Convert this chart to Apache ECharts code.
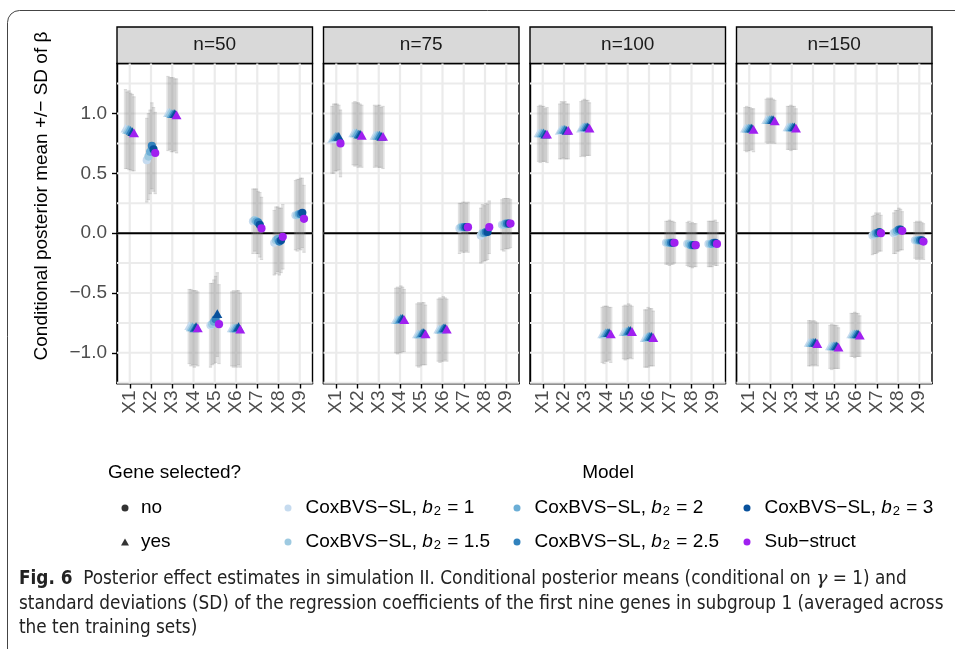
<!DOCTYPE html>
<html>
<head>
<meta charset="utf-8">
<script src="https://cdn.jsdelivr.net/npm/echarts@6/dist/echarts.min.js"></script>
<style>
  html, body { margin: 0; padding: 0; background: #fff; }
  #chart { width: 955px; height: 649px; }
</style>
</head>
<body>
<div id="chart"></div>
<script>
// Genes on the x axis and the four sample sizes (facets)
const geneLabels = ['X1', 'X2', 'X3', 'X4', 'X5', 'X6', 'X7', 'X8', 'X9'];
const panelTitles = ['n=50', 'n=75', 'n=100', 'n=150'];

// Models: five CoxBVS-SL prior settings plus the sub-structure model
const modelNames = ['CoxBVS−SL, b2 = 1', 'CoxBVS−SL, b2 = 1.5', 'CoxBVS−SL, b2 = 2',
                    'CoxBVS−SL, b2 = 2.5', 'CoxBVS−SL, b2 = 3', 'Sub−struct'];
const b2Values = ['1', '1.5', '2', '2.5', '3'];
const modelColors = ['#c6dbef', '#9ecae1', '#6baed6', '#3182bd', '#08519c', '#a020f0'];

// Axis ticks and gridlines
const yTicks = [-1, -0.5, 0, 0.5, 1];
const yGrid = [-1.25, -1, -0.75, -0.5, -0.25, 0, 0.25, 0.5, 0.75, 1, 1.25];

// Conditional posterior means, one row per model (order as modelNames), one column per gene
const meanN50 = [
  [0.87, 0.61, 1.00, -0.78, -0.77, -0.80, 0.10, -0.08, 0.15],
  [0.86, 0.64, 1.00, -0.79, -0.76, -0.80, 0.11, -0.06, 0.15],
  [0.86, 0.68, 0.99, -0.79, -0.74, -0.80, 0.10, -0.05, 0.16],
  [0.85, 0.73, 0.99, -0.80, -0.72, -0.80, 0.09, -0.07, 0.16],
  [0.84, 0.70, 0.99, -0.79, -0.68, -0.79, 0.07, -0.06, 0.17],
  [0.83, 0.67, 0.98, -0.80, -0.76, -0.81, 0.04, -0.03, 0.12]
];
const sdN50 = [
  [0.33, 0.35, 0.31, 0.31, 0.35, 0.31, 0.27, 0.27, 0.29],
  [0.32, 0.36, 0.30, 0.32, 0.34, 0.32, 0.26, 0.28, 0.30],
  [0.33, 0.35, 0.31, 0.31, 0.35, 0.31, 0.27, 0.27, 0.29],
  [0.32, 0.36, 0.31, 0.32, 0.36, 0.32, 0.26, 0.28, 0.30],
  [0.32, 0.35, 0.30, 0.31, 0.35, 0.31, 0.27, 0.27, 0.29],
  [0.31, 0.34, 0.31, 0.31, 0.33, 0.31, 0.26, 0.27, 0.28]
];
const selN50 = [
  [1, 0, 1, 1, 0, 1, 0, 0, 0],
  [1, 0, 1, 1, 0, 1, 0, 0, 0],
  [1, 0, 1, 1, 0, 1, 0, 0, 0],
  [1, 0, 1, 1, 0, 1, 0, 0, 0],
  [1, 0, 1, 1, 1, 1, 0, 0, 0],
  [1, 0, 1, 1, 0, 1, 0, 0, 0]
];

const meanN75 = [
  [0.78, 0.83, 0.81, -0.73, -0.85, -0.81, 0.04, -0.02, 0.07],
  [0.79, 0.83, 0.81, -0.73, -0.85, -0.81, 0.05, 0.00, 0.07],
  [0.80, 0.83, 0.81, -0.73, -0.85, -0.81, 0.05, 0.00, 0.08],
  [0.80, 0.82, 0.81, -0.72, -0.84, -0.80, 0.05, 0.01, 0.08],
  [0.80, 0.82, 0.80, -0.72, -0.84, -0.80, 0.05, 0.01, 0.08],
  [0.75, 0.81, 0.80, -0.73, -0.85, -0.81, 0.05, 0.05, 0.08]
];
const sdN75 = [
  [0.28, 0.26, 0.26, 0.27, 0.26, 0.26, 0.21, 0.23, 0.21],
  [0.29, 0.27, 0.25, 0.28, 0.27, 0.27, 0.20, 0.24, 0.22],
  [0.28, 0.26, 0.26, 0.27, 0.26, 0.26, 0.21, 0.23, 0.21],
  [0.28, 0.27, 0.26, 0.28, 0.26, 0.27, 0.21, 0.24, 0.21],
  [0.27, 0.26, 0.25, 0.27, 0.26, 0.26, 0.20, 0.23, 0.21],
  [0.28, 0.26, 0.26, 0.26, 0.25, 0.26, 0.21, 0.22, 0.20]
];
const selN75 = [
  [1, 1, 1, 1, 1, 1, 0, 0, 0],
  [1, 1, 1, 1, 1, 1, 0, 0, 0],
  [1, 1, 1, 1, 1, 1, 0, 0, 0],
  [1, 1, 1, 1, 1, 1, 0, 0, 0],
  [1, 1, 1, 1, 1, 1, 0, 0, 0],
  [0, 1, 1, 1, 1, 1, 0, 0, 0]
];

const meanN100 = [
  [0.83, 0.85, 0.87, -0.85, -0.83, -0.88, -0.08, -0.09, -0.09],
  [0.83, 0.86, 0.88, -0.85, -0.83, -0.88, -0.08, -0.09, -0.09],
  [0.83, 0.86, 0.88, -0.84, -0.83, -0.87, -0.08, -0.10, -0.09],
  [0.83, 0.86, 0.88, -0.84, -0.82, -0.87, -0.08, -0.10, -0.08],
  [0.82, 0.85, 0.88, -0.84, -0.82, -0.87, -0.08, -0.10, -0.08],
  [0.82, 0.85, 0.87, -0.85, -0.83, -0.88, -0.08, -0.10, -0.09]
];
const sdN100 = [
  [0.23, 0.23, 0.23, 0.23, 0.22, 0.24, 0.18, 0.18, 0.19],
  [0.24, 0.24, 0.23, 0.24, 0.23, 0.24, 0.18, 0.19, 0.19],
  [0.23, 0.23, 0.24, 0.23, 0.22, 0.25, 0.19, 0.18, 0.19],
  [0.23, 0.24, 0.23, 0.23, 0.23, 0.24, 0.18, 0.19, 0.18],
  [0.22, 0.23, 0.23, 0.22, 0.22, 0.24, 0.18, 0.18, 0.19],
  [0.23, 0.23, 0.22, 0.23, 0.22, 0.23, 0.17, 0.18, 0.18]
];
const selN100 = [
  [1, 1, 1, 1, 1, 1, 0, 0, 0],
  [1, 1, 1, 1, 1, 1, 0, 0, 0],
  [1, 1, 1, 1, 1, 1, 0, 0, 0],
  [1, 1, 1, 1, 1, 1, 0, 0, 0],
  [1, 1, 1, 1, 1, 1, 0, 0, 0],
  [1, 1, 1, 1, 1, 1, 0, 0, 0]
];

const meanN150 = [
  [0.87, 0.94, 0.88, -0.92, -0.95, -0.85, -0.02, 0.00, -0.06],
  [0.87, 0.94, 0.88, -0.92, -0.95, -0.85, -0.01, 0.01, -0.06],
  [0.87, 0.94, 0.88, -0.92, -0.95, -0.85, 0.00, 0.02, -0.06],
  [0.87, 0.94, 0.88, -0.92, -0.95, -0.85, 0.00, 0.03, -0.06],
  [0.87, 0.94, 0.88, -0.92, -0.95, -0.85, 0.01, 0.03, -0.06],
  [0.86, 0.93, 0.87, -0.93, -0.96, -0.86, 0.00, 0.02, -0.07]
];
const sdN150 = [
  [0.18, 0.18, 0.18, 0.19, 0.18, 0.18, 0.16, 0.17, 0.15],
  [0.19, 0.19, 0.18, 0.19, 0.19, 0.18, 0.16, 0.18, 0.16],
  [0.18, 0.18, 0.19, 0.18, 0.18, 0.19, 0.17, 0.17, 0.15],
  [0.18, 0.19, 0.18, 0.19, 0.18, 0.18, 0.16, 0.18, 0.16],
  [0.17, 0.18, 0.18, 0.18, 0.18, 0.18, 0.16, 0.17, 0.15],
  [0.18, 0.18, 0.17, 0.18, 0.17, 0.17, 0.15, 0.16, 0.15]
];
const selN150 = [
  [1, 1, 1, 1, 1, 1, 0, 0, 0],
  [1, 1, 1, 1, 1, 1, 0, 0, 0],
  [1, 1, 1, 1, 1, 1, 0, 0, 0],
  [1, 1, 1, 1, 1, 1, 0, 0, 0],
  [1, 1, 1, 1, 1, 1, 0, 0, 0],
  [1, 1, 1, 1, 1, 1, 0, 0, 0]
];

const panelMeans = [meanN50, meanN75, meanN100, meanN150];
const panelSds = [sdN50, sdN75, sdN100, sdN150];
const panelSel = [selN50, selN75, selN100, selN150];

// ---- layout ----
const FONT = "'Liberation Sans', Arial, Helvetica, sans-serif";
const CAP_FONT = "'Liberation Sans Narrow', 'DejaVu Sans Condensed', sans-serif";
const panelLeft = [117, 323.5, 530, 736.5];
const panelWidth = 195.5;
const panelTop = 63.5;
const panelHeight = 320;
const stripTop = 27;
const dodgeStep = 0.08;   // horizontal dodge between models, in category units

const chart = echarts.init(document.getElementById('chart'), null, { renderer: 'canvas' });

const grids = [], xAxes = [], yAxes = [], series = [];
const catIdx = geneLabels.map((_, i) => i);

function hLine(y, cs, stroke, width) {
  return { type: 'line', shape: { x1: cs.x, y1: y, x2: cs.x + cs.width, y2: y },
           style: { stroke: stroke, lineWidth: width } };
}

panelTitles.forEach((title, p) => {
  grids.push({ left: panelLeft[p], top: panelTop, width: panelWidth, height: panelHeight,
               show: true, borderColor: '#000', borderWidth: 1.4, backgroundColor: '#fff' });
  xAxes.push({
    type: 'value', gridIndex: p, min: -0.6, max: 8.6,
    axisLine: { show: true, onZero: false, lineStyle: { color: '#000', width: 1.4 } },
    splitLine: { show: false }, minorTick: { show: false },
    axisTick: { show: true, inside: false, customValues: catIdx, length: 5, lineStyle: { color: '#000', width: 1.4 } },
    axisLabel: { customValues: catIdx, formatter: v => geneLabels[Math.round(v)], rotate: 90,
                 fontSize: 19, fontFamily: FONT, color: '#4d4d4d', margin: 7 }
  });
  yAxes.push({
    type: 'value', gridIndex: p, min: -1.256, max: 1.418,
    axisLine: { show: true, onZero: false, lineStyle: { color: '#000', width: 1.4 } },
    splitLine: { show: false }, minorTick: { show: false },
    axisTick: { show: p === 0, inside: false, customValues: yTicks, length: 5, lineStyle: { color: '#000', width: 1.4 } },
    axisLabel: { show: p === 0, customValues: yTicks, fontSize: 19, fontFamily: FONT, color: '#4d4d4d', margin: 10,
                 formatter: v => (v < 0 ? '\u2212' : '') + Math.abs(v).toFixed(1) }
  });

  // horizontal gridlines
  series.push({
    type: 'custom', xAxisIndex: p, yAxisIndex: p, silent: true, z: 1,
    data: yGrid.map(v => [0, v]),
    renderItem: (params, api) => hLine(api.coord([0, api.value(1)])[1], params.coordSys, '#ebebeb', 2)
  });
  // vertical gridlines at each gene
  series.push({
    type: 'custom', xAxisIndex: p, yAxisIndex: p, silent: true, z: 1,
    data: catIdx.map(i => [i, 0]),
    renderItem: (params, api) => {
      const cs = params.coordSys;
      const x = api.coord([api.value(0), 0])[0];
      return { type: 'line', shape: { x1: x, y1: cs.y, x2: x, y2: cs.y + cs.height },
               style: { stroke: '#ebebeb', lineWidth: 2.2 } };
    }
  });
  // reference line at zero
  series.push({
    type: 'custom', xAxisIndex: p, yAxisIndex: p, silent: true, z: 2,
    data: [[0, 0]],
    renderItem: (params, api) => hLine(api.coord([0, api.value(1)])[1], params.coordSys, '#000', 2)
  });

  // mean +/- SD error bars for all models
  const ebData = [];
  modelNames.forEach((_, m) => {
    catIdx.forEach(g => ebData.push([g + (m - 2.5) * dodgeStep, panelMeans[p][m][g], panelSds[p][m][g]]));
  });
  series.push({
    type: 'custom', xAxisIndex: p, yAxisIndex: p, silent: true, z: 3,
    data: ebData,
    renderItem: (params, api) => {
      const x = api.value(0), mu = api.value(1), sd = api.value(2);
      const lo = api.coord([x, mu - sd]);
      const hi = api.coord([x, mu + sd]);
      const col = 'rgba(140,140,140,0.25)';
      return { type: 'group', children: [
        { type: 'line', shape: { x1: lo[0], y1: lo[1], x2: hi[0], y2: hi[1] }, style: { stroke: col, lineWidth: 3.3 } },
        { type: 'line', shape: { x1: lo[0] - 1.6, y1: lo[1], x2: lo[0] + 1.6, y2: lo[1] }, style: { stroke: col, lineWidth: 1 } },
        { type: 'line', shape: { x1: hi[0] - 1.6, y1: hi[1], x2: hi[0] + 1.6, y2: hi[1] }, style: { stroke: col, lineWidth: 1 } }
      ] };
    }
  });

  // posterior means: circle = gene not selected, triangle = selected
  modelNames.forEach((name, m) => {
    series.push({
      type: 'custom', name: name, xAxisIndex: p, yAxisIndex: p, z: 4,
      itemStyle: { color: modelColors[m] },
      data: catIdx.map(g => [g + (m - 2.5) * dodgeStep, panelMeans[p][m][g], panelSel[p][m][g]]),
      renderItem: (params, api) => {
        const c = api.coord([api.value(0), api.value(1)]);
        const fill = modelColors[m];
        if (api.value(2) === 1) {
          return { type: 'polygon',
                   shape: { points: [[c[0], c[1] - 5.4], [c[0] - 5, c[1] + 3.4], [c[0] + 5, c[1] + 3.4]] },
                   style: { fill: fill } };
        }
        return { type: 'circle', shape: { cx: c[0], cy: c[1], r: 4.1 }, style: { fill: fill } };
      }
    });
  });
});

// empty series that only feed the shape legend
series.push({ type: 'scatter', name: 'no', xAxisIndex: 0, yAxisIndex: 0, data: [], itemStyle: { color: '#000' } });
series.push({ type: 'scatter', name: 'yes', xAxisIndex: 0, yAxisIndex: 0, data: [], itemStyle: { color: '#000' } });

function modelLabel(name) {
  const i = modelNames.indexOf(name);
  if (i >= 0 && i < b2Values.length) {
    return '{t|CoxBVS\u2212SL, }{i|b}{s|2}{t| = ' + b2Values[i] + '}';
  }
  return '{t|' + name + '}';
}
const legendRich = {
  t: { fontSize: 19, fontFamily: FONT, color: '#000', lineHeight: 20 },
  i: { fontSize: 19, fontFamily: FONT, color: '#000', lineHeight: 20, fontStyle: 'italic' },
  s: { fontSize: 13, fontFamily: FONT, color: '#000', lineHeight: 11, verticalAlign: 'bottom', padding: [0, 1, 0, 1] }
};
function modelLegend(left, names) {
  return {
    orient: 'vertical', left: left, top: 498, padding: 0, itemGap: 14,
    itemWidth: 7, itemHeight: 7, selectedMode: false,
    data: names.map(n => ({ name: n, icon: 'circle' })),
    formatter: modelLabel,
    textStyle: { fontSize: 19, fontFamily: FONT, color: '#000', lineHeight: 20, padding: [0, 0, 0, 9], rich: legendRich }
  };
}

const legends = [
  {
    orient: 'vertical', left: 121, top: 498, padding: 0, itemGap: 14,
    itemWidth: 8, itemHeight: 7, selectedMode: false,
    data: [{ name: 'no', icon: 'circle' }, { name: 'yes', icon: 'triangle' }],
    textStyle: { fontSize: 19, fontFamily: FONT, color: '#000', lineHeight: 20, padding: [0, 0, 0, 7] }
  },
  modelLegend(284.5, [modelNames[0], modelNames[1]]),
  modelLegend(513.5, [modelNames[2], modelNames[3]]),
  modelLegend(743.5, [modelNames[4], modelNames[5]])
];

// frame, facet strips, titles and caption
const graphics = [
  { type: 'rect', shape: { x: 7.5, y: 10.5, width: 1000, height: 700, r: 12 }, silent: true,
    style: { fill: 'none', stroke: '#444', lineWidth: 1 }, z: -10 }
];
panelTitles.forEach((title, p) => {
  graphics.push({ type: 'rect', silent: true,
    shape: { x: panelLeft[p], y: stripTop, width: panelWidth, height: panelTop - stripTop },
    style: { fill: '#d9d9d9', stroke: '#000', lineWidth: 1.4 } });
  graphics.push({ type: 'text', silent: true, x: panelLeft[p] + panelWidth / 2, y: (stripTop + panelTop) / 2,
    style: { text: title, fontSize: 19, fontFamily: FONT, fill: '#1a1a1a', align: 'center', verticalAlign: 'middle' } });
});
graphics.push({ type: 'text', silent: true, x: 42, y: 196, rotation: Math.PI / 2,
  style: { text: 'Conditional posterior mean +/\u2212 SD of \u03b2', fontSize: 19, fontFamily: FONT, fill: '#000',
           align: 'center', verticalAlign: 'middle' } });
graphics.push({ type: 'text', silent: true, x: 108, y: 473,
  style: { text: 'Gene selected?', fontSize: 19, fontFamily: FONT, fill: '#000', align: 'left', verticalAlign: 'middle' } });
graphics.push({ type: 'text', silent: true, x: 608, y: 473,
  style: { text: 'Model', fontSize: 19, fontFamily: FONT, fill: '#000', align: 'center', verticalAlign: 'middle' } });

const CAP_SIZE = 18.8;
const capRich = {
  b: { fontWeight: 'bold', fontSize: CAP_SIZE, fontFamily: CAP_FONT, fill: '#222' },
  i: { fontStyle: 'italic', fontSize: CAP_SIZE, fontFamily: "'DejaVu Serif', serif", fill: '#222' }
};
const captionLines = [
  '{b|Fig. 6}  Posterior effect estimates in simulation II. Conditional posterior means (conditional on {i|\u03b3} = 1) and',
  'standard deviations (SD) of the regression coefficients of the first nine genes in subgroup 1 (averaged across',
  'the ten training sets)'
];
const captionY = [579, 604, 628];
captionLines.forEach((line, k) => {
  graphics.push({ type: 'text', silent: true, x: 19, y: captionY[k],
    style: { text: line, rich: capRich, fontSize: CAP_SIZE, fontFamily: CAP_FONT, fill: '#222',
             align: 'left', verticalAlign: 'middle' } });
});

chart.setOption({
  animation: false,
  backgroundColor: '#fff',
  grid: grids,
  xAxis: xAxes,
  yAxis: yAxes,
  legend: legends,
  series: series,
  graphic: graphics
});
</script>
</body>
</html>
